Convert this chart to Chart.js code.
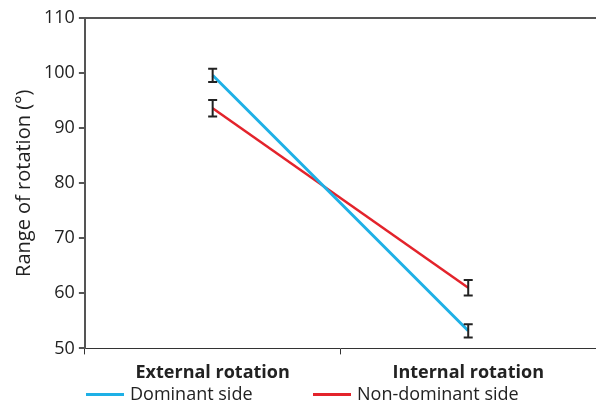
<!DOCTYPE html>
<html>
<head>
<meta charset="utf-8">
<script src="https://cdn.jsdelivr.net/npm/chart.js@4"></script>
<style>
  html, body { margin: 0; padding: 0; background: #fff; }
  #wrap { position: relative; width: 596px; height: 405px; }
  #legend { position: absolute; left: 0; top: 382px; width: 596px; height: 22px;
            font-family: "Open Sans", "Noto Sans", sans-serif; font-size: 18px; color: #222; }
  .item { position: absolute; top: 0; line-height: 22px; white-space: nowrap; }
  .swatch { display: inline-block; width: 38px; height: 3px; vertical-align: middle; margin-right: 6px; margin-top: -2px; }
</style>
</head>
<body>
<div id="wrap"><canvas id="rotacion"></canvas><div id="legend"></div></div>
<script>
const categories = ['External rotation', 'Internal rotation'];
const dominant = [99.6, 53.2];
const dominantErr = [1.2, 1.2];
const nonDominant = [93.6, 61.0];
const nonDominantErr = [1.5, 1.4];
const yTicks = [50, 60, 70, 80, 90, 100, 110];
const seriesNames = ['Dominant side', 'Non-dominant side'];
const seriesColors = ['#1eb0e6', '#e3232b'];

const fontFam = '"Open Sans", "Noto Sans", sans-serif';

// error bars drawn from the scales
const errorBars = {
  id: 'errorBars',
  afterDatasetsDraw(chart) {
    const ctx = chart.ctx;
    const x = chart.scales.x, y = chart.scales.y;
    const errs = [dominantErr, nonDominantErr];
    ctx.save();
    ctx.strokeStyle = '#222';
    ctx.lineWidth = 2;
    chart.data.datasets.forEach((ds, i) => {
      ds.data.forEach((v, j) => {
        const px = x.getPixelForValue(j);
        const top = y.getPixelForValue(v + errs[i][j]);
        const bot = y.getPixelForValue(v - errs[i][j]);
        ctx.beginPath();
        ctx.moveTo(px, top); ctx.lineTo(px, bot);
        ctx.moveTo(px - 4.5, top); ctx.lineTo(px + 4.5, top);
        ctx.moveTo(px - 4.5, bot); ctx.lineTo(px + 4.5, bot);
        ctx.stroke();
      });
    });
    ctx.restore();
  }
};

const ctx = document.getElementById('rotacion').getContext('2d');
const chart = new Chart(ctx, {
  type: 'line',
  data: {
    labels: categories,
    datasets: [
      {
        label: seriesNames[0],
        data: dominant,
        borderColor: seriesColors[0],
        borderWidth: 3,
        pointRadius: 0,
        tension: 0
      },
      {
        label: seriesNames[1],
        data: nonDominant,
        borderColor: seriesColors[1],
        borderWidth: 2.5,
        pointRadius: 0,
        tension: 0
      }
    ]
  },
  options: {
    responsive: true,
    maintainAspectRatio: false,
    animation: false,
    layout: { padding: { top: 18, right: 0, left: 8, bottom: 13 } },
    plugins: {
      tooltip: { enabled: false },
      legend: { display: false }
    },
    scales: {
      x: {
        offset: true,
        grid: {
          offset: true,
          drawOnChartArea: false,
          color: '#333',
          tickLength: 6
        },
        border: { color: '#333', width: 1 },
        ticks: {
          font: { family: fontFam, size: 18, weight: 'bold' },
          color: '#222',
          padding: 8
        }
      },
      y: {
        min: 50,
        max: 110,
        afterBuildTicks(axis) { axis.ticks = yTicks.map(v => ({ value: v })); },
        grid: {
          color: c => (c.tick && c.tick.value === 110 ? '#555' : 'rgba(0,0,0,0)'),
          lineWidth: 2,
          tickColor: '#555',
          tickLength: 6
        },
        border: { color: '#555', width: 2 },
        ticks: {
          font: { family: fontFam, size: 18 },
          color: '#222',
          padding: 4
        },
        title: {
          display: true,
          text: 'Range of rotation (°)',
          font: { family: fontFam, size: 20 },
          color: '#222',
          padding: 4
        }
      }
    }
  },
  plugins: [errorBars]
});

// legend below the axis
const legendLeft = [86, 313];
const legend = document.getElementById('legend');
seriesNames.forEach((name, i) => {
  const it = document.createElement('div');
  it.className = 'item';
  it.style.left = legendLeft[i] + 'px';
  it.innerHTML = '<span class="swatch" style="background:' + seriesColors[i] + '"></span>' + name;
  legend.appendChild(it);
});
</script>
</body>
</html>
